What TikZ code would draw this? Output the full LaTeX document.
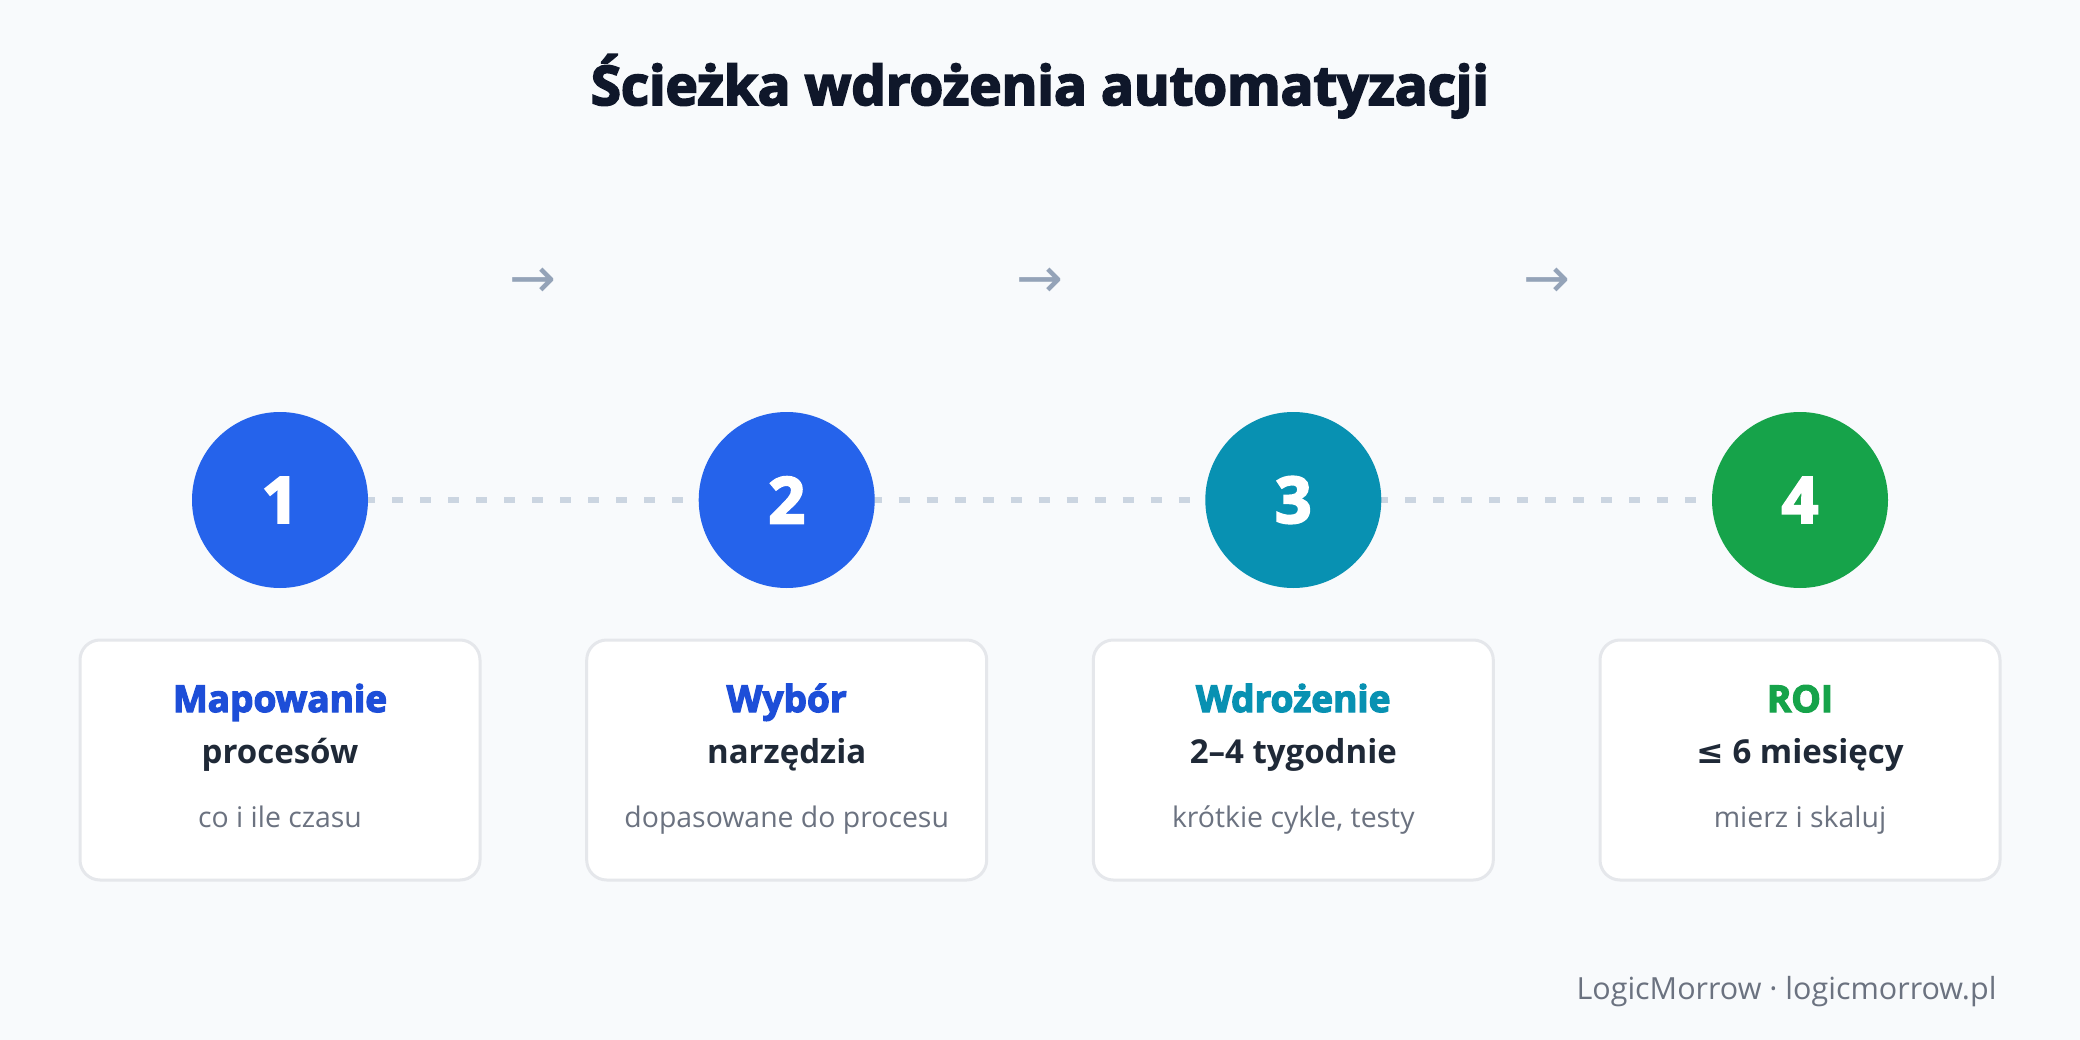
\documentclass[tikz,border=0pt]{standalone}
\usepackage{fontspec}
\setmainfont{Open Sans}
\newfontfamily\symfont{DejaVu Sans}
\newfontfamily\heavyfont{Open Sans}[BoldFeatures={FakeBold=3.5}]
\definecolor{bgc}{HTML}{F8FAFC}
\definecolor{titlec}{HTML}{0F172A}
\definecolor{blue6}{HTML}{2563EB}
\definecolor{blue7}{HTML}{1D4ED8}
\definecolor{cyan6}{HTML}{0891B2}
\definecolor{green6}{HTML}{16A34A}
\definecolor{darkc}{HTML}{1F2937}
\definecolor{grayc}{HTML}{6B7280}
\definecolor{cardb}{HTML}{E5E7EB}
\definecolor{dashc}{HTML}{CBD5E1}
\definecolor{arrowc}{HTML}{94A3B8}
\definecolor{footc}{HTML}{6B7280}
\pgfdeclarelayer{back}
\pgfsetlayers{back,main}
\begin{document}
\begin{tikzpicture}[x=1pt,y=-1pt,
 card/.style={draw=cardb, line width=3pt, fill=white, rounded corners=20pt, minimum width=400pt, minimum height=240pt, inner sep=0pt},
 stepcircle/.style={circle, minimum size=176pt, inner sep=0pt, text=white, font=\heavyfont\fontsize{64}{64}\selectfont\bfseries},
 head/.style={anchor=base, font=\heavyfont\fontsize{37}{40}\selectfont\bfseries},
 sub/.style={anchor=base, text=darkc, font=\fontsize{33}{36}\selectfont\bfseries},
 note/.style={anchor=base, text=grayc, font=\fontsize{28.4}{31}\selectfont},
 arrowlbl/.style={text=arrowc, inner sep=0pt, font=\symfont\fontsize{56}{56}\selectfont},
 dashline/.style={draw=dashc, line width=6pt, dash pattern=on 11pt off 17pt}
]
\begin{pgfonlayer}{back}
\fill[bgc] (0,0) rectangle (2080,1040);
\end{pgfonlayer}
\useasboundingbox (0,0) rectangle (2080,1040);

\node[anchor=base, text=titlec, font=\heavyfont\fontsize{54.5}{58}\selectfont\bfseries] (title) at (1040,105) {Ścieżka wdrożenia automatyzacji};

\node[stepcircle, fill=blue6] (c1) at (280,500) {1};
\node[stepcircle, fill=blue6] (c2) at (786.7,500) {2};
\node[stepcircle, fill=cyan6] (c3) at (1293.3,500) {3};
\node[stepcircle, fill=green6] (c4) at (1800,500) {4};

\begin{pgfonlayer}{back}
\draw[dashline] (c1.center) -- (c2.center);
\draw[dashline] (c2.center) -- (c3.center);
\draw[dashline] (c3.center) -- (c4.center);
\end{pgfonlayer}

\node[arrowlbl] (a1) at (533.3,283) {→};
\node[arrowlbl] (a2) at (1040,283) {→};
\node[arrowlbl] (a3) at (1546.7,283) {→};

\node[card] (k1) at (280,760) {};
\node[card] (k2) at (786.7,760) {};
\node[card] (k3) at (1293.3,760) {};
\node[card] (k4) at (1800,760) {};

\node[head, text=blue7] (h1) at (280,712) {Mapowanie};
\node[sub] (s1) at (280,763) {procesów};
\node[note] (n1) at (280,827) {co i ile czasu};

\node[head, text=blue7] (h2) at (786.7,712) {Wybór};
\node[sub] (s2) at (786.7,763) {narzędzia};
\node[note] (n2) at (786.7,827) {dopasowane do procesu};

\node[head, text=cyan6] (h3) at (1293.3,712) {Wdrożenie};
\node[sub] (s3) at (1293.3,763) {2–4 tygodnie};
\node[note] (n3) at (1293.3,827) {krótkie cykle, testy};

\node[head, text=green6] (h4) at (1800,712) {ROI};
\node[sub] (s4) at (1800,763) {{\symfont\bfseries ≤} 6 miesięcy};
\node[note] (n4) at (1800,827) {mierz i skaluj};

\node[anchor=base east, text=footc, font=\fontsize{30.5}{33}\selectfont] (foot) at (2000,999) {LogicMorrow · logicmorrow.pl};
\end{tikzpicture}
\end{document}
